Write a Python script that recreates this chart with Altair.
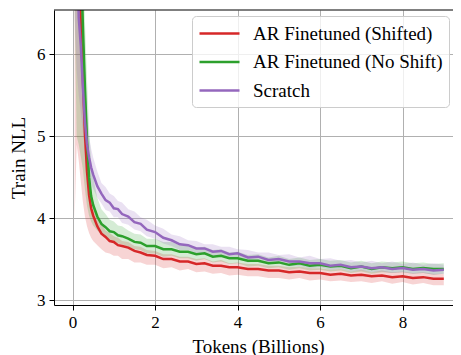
import altair as alt
import pandas as pd

series = ["AR Finetuned (Shifted)", "AR Finetuned (No Shift)", "Scratch"]
colors = ["#d62728", "#2ca02c", "#9467bd"]

tokens = [0.05, 0.1, 0.15, 0.2, 0.25, 0.3, 0.35, 0.4, 0.45, 0.5, 0.6, 0.7, 0.8, 0.9, 1.0,
          1.1, 1.2, 1.35, 1.5, 1.65, 1.8, 2.0, 2.2, 2.4, 2.6, 2.8, 3.0, 3.2, 3.4, 3.6, 3.8,
          4.0, 4.25, 4.5, 4.75, 5.0, 5.25, 5.5, 5.75, 6.0, 6.25, 6.5, 6.75, 7.0, 7.25, 7.5,
          7.75, 8.0, 8.25, 8.5, 8.75, 9.0]

red_mean = [10.5, 8.6, 7.3, 6.35, 5.7, 5.03, 4.57, 4.28, 4.12, 4.03, 3.9, 3.81, 3.77, 3.72, 3.71,
            3.67, 3.66, 3.64, 3.60, 3.58, 3.55, 3.54, 3.50, 3.50, 3.47, 3.47, 3.44, 3.45, 3.42, 3.42, 3.40,
            3.40, 3.38, 3.38, 3.36, 3.36, 3.34, 3.35, 3.33, 3.33, 3.31, 3.32, 3.30, 3.31, 3.29, 3.30,
            3.28, 3.29, 3.27, 3.28, 3.26, 3.26]
red_lo = [4.0, 4.9, 4.7, 4.45, 4.2, 4.02, 3.9, 3.82, 3.76, 3.72, 3.67, 3.62, 3.58, 3.57, 3.54,
          3.54, 3.50, 3.50, 3.46, 3.46, 3.43, 3.43, 3.39, 3.40, 3.36, 3.38, 3.34, 3.35, 3.32, 3.33, 3.30,
          3.31, 3.29, 3.29, 3.27, 3.27, 3.25, 3.27, 3.24, 3.25, 3.23, 3.24, 3.22, 3.23, 3.21, 3.23,
          3.20, 3.22, 3.19, 3.21, 3.18, 3.18]
red_hi = [11.0, 9.5, 8.0, 7.0, 6.3, 5.6, 5.0, 4.6, 4.35, 4.2, 4.02, 3.93, 3.85, 3.82, 3.78,
          3.76, 3.72, 3.71, 3.66, 3.65, 3.61, 3.60, 3.56, 3.56, 3.53, 3.53, 3.50, 3.51, 3.47, 3.49, 3.45,
          3.46, 3.44, 3.44, 3.42, 3.42, 3.40, 3.41, 3.39, 3.39, 3.37, 3.38, 3.35, 3.37, 3.34, 3.36,
          3.34, 3.35, 3.33, 3.34, 3.32, 3.32]

green_mean = [11.5, 10.0, 8.6, 7.3, 6.35, 5.6, 4.95, 4.5, 4.27, 4.16, 4.02, 3.93, 3.89, 3.84, 3.83,
              3.79, 3.78, 3.75, 3.71, 3.70, 3.66, 3.66, 3.62, 3.62, 3.59, 3.59, 3.56, 3.57, 3.53, 3.54, 3.51,
              3.51, 3.48, 3.48, 3.45, 3.46, 3.43, 3.45, 3.42, 3.43, 3.41, 3.42, 3.39, 3.41, 3.38, 3.40,
              3.39, 3.40, 3.38, 3.39, 3.38, 3.38]
green_lo = [6.5, 5.0, 4.9, 4.75, 4.6, 4.35, 4.15, 4.03, 3.96, 3.91, 3.85, 3.80, 3.77, 3.73, 3.72,
            3.69, 3.68, 3.65, 3.62, 3.61, 3.57, 3.57, 3.53, 3.54, 3.51, 3.51, 3.48, 3.50, 3.46, 3.47, 3.44,
            3.45, 3.41, 3.42, 3.39, 3.40, 3.37, 3.39, 3.36, 3.37, 3.35, 3.36, 3.33, 3.35, 3.32, 3.34,
            3.33, 3.34, 3.32, 3.33, 3.31, 3.32]
green_hi = [12.0, 11.0, 9.5, 8.2, 7.2, 6.4, 5.7, 5.1, 4.7, 4.5, 4.25, 4.11, 4.05, 3.98, 3.96,
            3.91, 3.90, 3.85, 3.81, 3.80, 3.75, 3.75, 3.71, 3.71, 3.67, 3.68, 3.64, 3.65, 3.61, 3.62, 3.58,
            3.59, 3.55, 3.56, 3.52, 3.54, 3.50, 3.52, 3.49, 3.50, 3.48, 3.49, 3.46, 3.48, 3.45, 3.47,
            3.46, 3.47, 3.45, 3.46, 3.44, 3.45]

purple_mean = [10.0, 7.6, 6.45, 6.1, 5.6, 5.17, 4.9, 4.74, 4.62, 4.53, 4.39, 4.30, 4.22, 4.19, 4.12,
               4.11, 4.05, 4.02, 3.95, 3.93, 3.86, 3.83, 3.76, 3.73, 3.68, 3.67, 3.63, 3.63, 3.59, 3.60, 3.56,
               3.57, 3.52, 3.53, 3.49, 3.50, 3.47, 3.47, 3.45, 3.45, 3.42, 3.43, 3.40, 3.41, 3.39, 3.40,
               3.38, 3.39, 3.37, 3.38, 3.36, 3.37]
purple_lo = [6.5, 5.8, 5.5, 5.3, 5.05, 4.8, 4.62, 4.5, 4.42, 4.36, 4.25, 4.18, 4.10, 4.08, 4.01,
             4.01, 3.94, 3.92, 3.86, 3.84, 3.78, 3.75, 3.69, 3.66, 3.61, 3.61, 3.57, 3.57, 3.53, 3.54, 3.50,
             3.51, 3.46, 3.48, 3.44, 3.45, 3.41, 3.42, 3.39, 3.40, 3.37, 3.38, 3.35, 3.36, 3.34, 3.35,
             3.33, 3.34, 3.32, 3.33, 3.31, 3.32]
purple_hi = [12.0, 9.5, 7.6, 6.9, 6.2, 5.6, 5.25, 5.0, 4.85, 4.74, 4.57, 4.43, 4.38, 4.30, 4.27,
             4.21, 4.19, 4.11, 4.08, 4.01, 3.98, 3.91, 3.87, 3.80, 3.78, 3.73, 3.72, 3.68, 3.68, 3.65, 3.65,
             3.62, 3.61, 3.58, 3.58, 3.55, 3.56, 3.52, 3.54, 3.50, 3.51, 3.48, 3.49, 3.46, 3.48, 3.45,
             3.47, 3.44, 3.46, 3.43, 3.45, 3.43]

x_ticks = [0, 2, 4, 6, 8]
y_ticks = [3, 4, 5, 6]

means = [red_mean, green_mean, purple_mean]
los = [red_lo, green_lo, purple_lo]
his = [red_hi, green_hi, purple_hi]

rows = []
for name, m, lo, hi in zip(series, means, los, his):
    for t, a, b, c in zip(tokens, m, lo, hi):
        rows.append({"series": name, "tokens": t, "nll": a, "lo": b, "hi": c})
df = pd.DataFrame(rows)

FONT = "Liberation Serif"
W, H = 399, 295

xscale = alt.Scale(domain=[-0.45, 9.223], nice=False, zero=False)
yscale = alt.Scale(domain=[2.94, 6.54], nice=False, zero=False)

x_axis = alt.Axis(values=x_ticks, format="d", title="Tokens (Billions)", grid=True,
                  gridColor="#b0b0b0", gridWidth=1, domainColor="black", domainWidth=1,
                  tickColor="black", tickSize=5, tickWidth=1, labelFont=FONT, labelFontSize=17,
                  labelColor="black", labelPadding=4, titleFont=FONT, titleFontSize=19,
                  titleFontWeight="normal", titleColor="black", titlePadding=7, titleX=204)
y_axis = alt.Axis(values=y_ticks, format="d", title="Train NLL", grid=True,
                  gridColor="#b0b0b0", gridWidth=1, domainColor="black", domainWidth=1,
                  tickColor="black", tickSize=5, tickWidth=1, labelFont=FONT, labelFontSize=17,
                  labelColor="black", labelPadding=4, titleFont=FONT, titleFontSize=19,
                  titleFontWeight="normal", titleColor="black", titlePadding=8)

cscale = alt.Scale(domain=series, range=colors)

base = alt.Chart(df)

bands = base.mark_area(opacity=0.2, clip=True).encode(
    x=alt.X("tokens:Q", scale=xscale, axis=x_axis),
    y=alt.Y("lo:Q", scale=yscale, axis=y_axis),
    y2="hi:Q",
    color=alt.Color("series:N", scale=cscale, sort=series, legend=None),
)

lines = base.mark_line(strokeWidth=2.5, clip=True).encode(
    x=alt.X("tokens:Q", scale=xscale),
    y=alt.Y("nll:Q", scale=yscale),
    color=alt.Color("series:N", scale=cscale, sort=series,
                    legend=alt.Legend(title=None, orient="none", legendX=138, legendY=6,
                                      symbolType="M-1,0H3", symbolSize=400, symbolStrokeWidth=2.5,
                                      labelFont=FONT, labelFontSize=19, labelColor="black",
                                      labelOffset=32, padding=6, rowPadding=6.5,
                                      fillColor="rgba(255,255,255,0.8)", strokeColor="#cccccc",
                                      cornerRadius=4, labelLimit=400)),
)

top = alt.Chart(pd.DataFrame({"k": [0]})).mark_rule(color="black", strokeWidth=1).encode(
    x=alt.value(0), x2=alt.value(W), y=alt.value(0)
)

chart = alt.layer(bands, lines, top).resolve_legend(color="independent").properties(
    width=W, height=H,
    autosize=alt.AutoSizeParams(type="none"),
    padding={"left": 46, "top": 2, "right": 0, "bottom": 50},
).configure(font=FONT).configure_view(stroke=None).configure_axis(
    labelFont=FONT, titleFont=FONT
).configure_legend(labelFont=FONT)

chart.save("out.html", embed_options={"renderer": "svg", "actions": False})
